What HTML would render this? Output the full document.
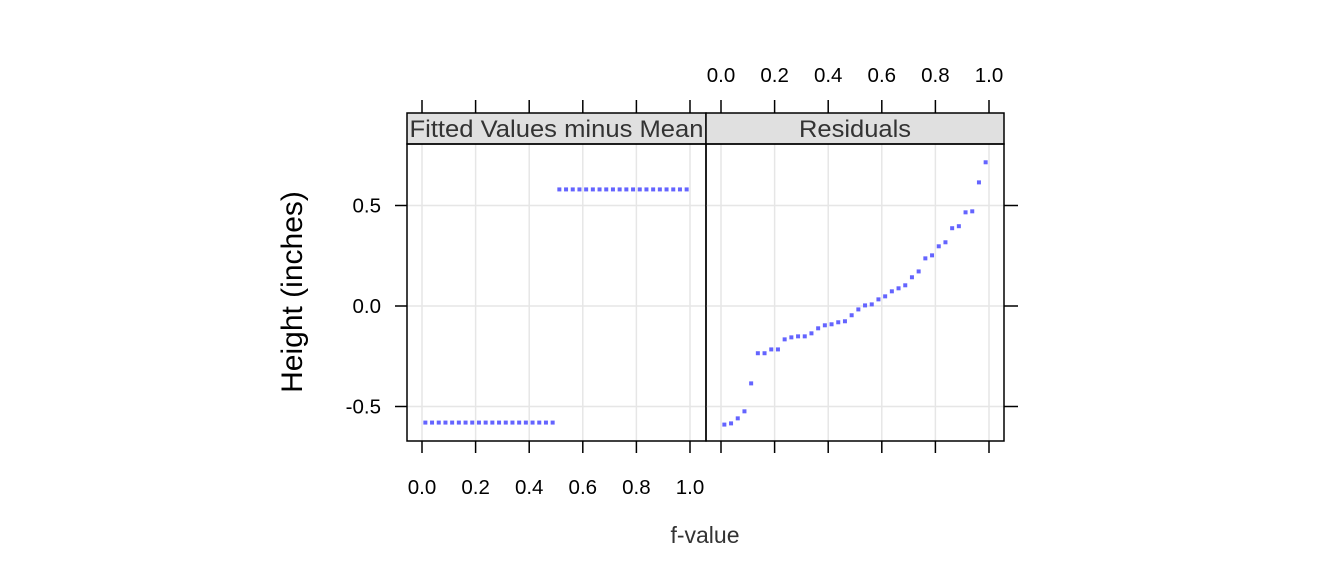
<!DOCTYPE html>
<html><head><meta charset="utf-8"><style>
body{margin:0;background:#fff}
svg{display:block;font-family:"Liberation Sans",Arial,sans-serif}
</style></head><body>
<svg id="chart" width="1344" height="576">
<g id="g"></g>
</svg>
<script>
const fittedLow = -0.58;
const fittedHigh = 0.58;
const nPoints = 40;
const residuals = [-0.59,-0.584,-0.559,-0.524,-0.385,-0.235,-0.235,-0.216,-0.216,-0.166,-0.156,-0.151,-0.151,-0.136,-0.111,-0.096,-0.091,-0.081,-0.076,-0.046,-0.017,0.003,0.008,0.033,0.048,0.073,0.088,0.103,0.143,0.172,0.237,0.252,0.297,0.317,0.387,0.397,0.466,0.471,0.615,0.715];
const xTicks = [0,0.2,0.4,0.6,0.8,1.0];
const xTickLabels = ["0.0","0.2","0.4","0.6","0.8","1.0"];
const yTicks = [0.5,0,-0.5];
const yTickLabels = ["0.5","0.0","-0.5"];

const NS="http://www.w3.org/2000/svg";
const g=document.getElementById('g');
function mk(t,a,p){const e=document.createElementNS(NS,t);for(const k in a)e.setAttribute(k,a[k]);(p||g).appendChild(e);return e;}
const plotTop=144,plotBot=441;
const panels=[{x0:407,x1:706,name:'fitted',title:'Fitted Values minus Mean',tl:294},{x0:706,x1:1004,name:'residuals',title:'Residuals',tl:112}];
function xs(p,v){return p.x0+15+v*268;}
function ys(v){return 306-v*201;}

panels.forEach((p,pi)=>{
  xTicks.forEach(t=>{const l=mk('line',{x1:xs(p,t),x2:xs(p,t),y1:plotTop,y2:plotBot,stroke:'#e6e6e6','stroke-width':1.5});
    
    });
  yTicks.forEach(t=>{const l=mk('line',{x1:p.x0,x2:p.x1,y1:ys(t),y2:ys(t),stroke:'#e6e6e6','stroke-width':1.5});
    
    });
  const s=mk('rect',{x:p.x0,y:113,width:p.x1-p.x0,height:31,fill:'#e0e0e0',stroke:'#000','stroke-width':1.5});
  
  
  const st=mk('text',{x:(p.x0+p.x1)/2,y:137,'text-anchor':'middle','font-size':24,fill:'#333',textLength:p.tl,lengthAdjust:'spacingAndGlyphs'});
  st.textContent=p.title;
  
  
  const fr=mk('rect',{x:p.x0,y:plotTop,width:p.x1-p.x0,height:plotBot-plotTop,fill:'none',stroke:'#000','stroke-width':1.5});
  
  
  xTicks.forEach((t,i)=>{
    const a=mk('line',{x1:xs(p,t),x2:xs(p,t),y1:plotBot,y2:plotBot+12,stroke:'#000','stroke-width':1.5});
    
    
    const b=mk('line',{x1:xs(p,t),x2:xs(p,t),y1:100,y2:113,stroke:'#000','stroke-width':1.5});
    
    
    if(pi===0){const tx=mk('text',{x:xs(p,t),y:494,'text-anchor':'middle','font-size':20.5});tx.textContent=xTickLabels[i];
      
      }
    else{const tx=mk('text',{x:xs(p,t),y:82,'text-anchor':'middle','font-size':20.5});tx.textContent=xTickLabels[i];
      
      }
  });
});
yTicks.forEach((t,i)=>{
  const a=mk('line',{x1:395,x2:407,y1:ys(t),y2:ys(t),stroke:'#000','stroke-width':1.5});
  
  
  const b=mk('line',{x1:1004,x2:1018,y1:ys(t),y2:ys(t),stroke:'#000','stroke-width':1.5});
  
  
  const tx=mk('text',{x:381,y:ys(t)+7,'text-anchor':'end','font-size':20.5});tx.textContent=yTickLabels[i];
  
  
});
for(let i=0;i<nPoints;i++){
  const f=(i+0.5)/nPoints;
  const v=f<0.5?fittedLow:fittedHigh;
  const c=mk('rect',{x:xs(panels[0],f)-2,y:ys(v)-2,width:4,height:4,fill:'#6464ff'});
  
  
}
residuals.forEach((v,i)=>{
  const f=(i+0.5)/residuals.length;
  const c=mk('rect',{x:xs(panels[1],f)-2,y:ys(v)-2,width:4,height:4,fill:'#6464ff'});
  
  
});
const xt=mk('text',{x:705,y:543,'text-anchor':'middle','font-size':23,fill:'#333'});xt.textContent='f-value';


const yt=mk('text',{x:0,y:0,'text-anchor':'middle','font-size':30,transform:'translate(302,292) rotate(-90)'});yt.textContent='Height (inches)';


</script>
</body></html>
